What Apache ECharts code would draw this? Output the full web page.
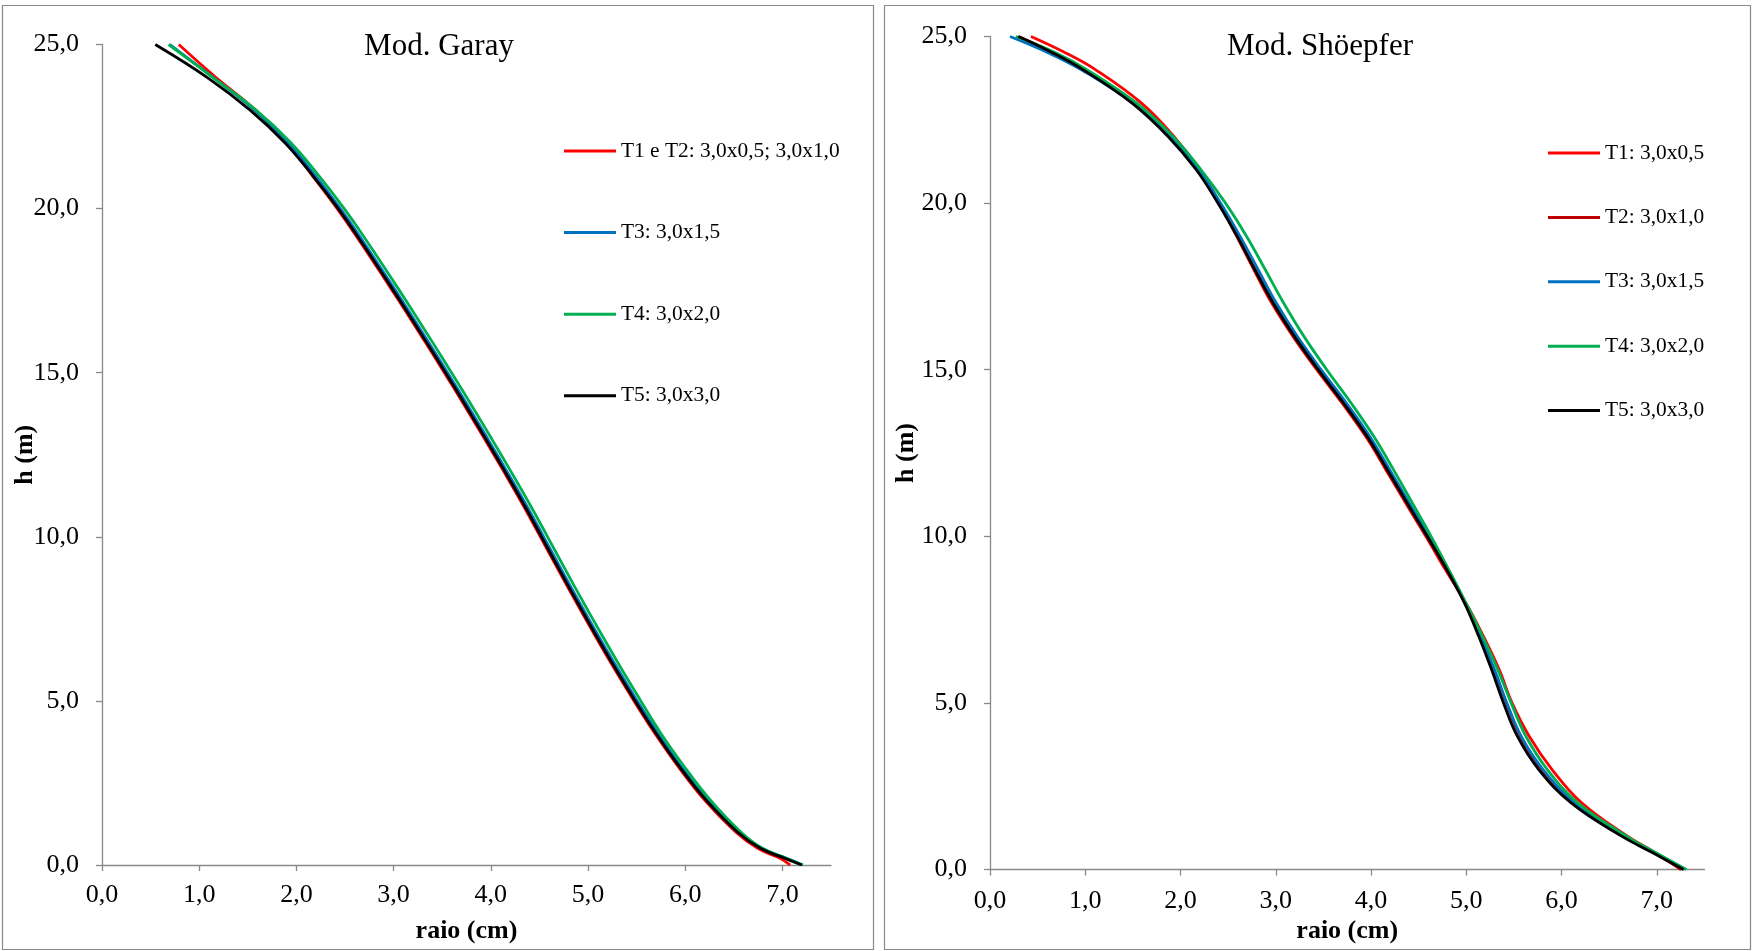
<!DOCTYPE html>
<html>
<head>
<meta charset="utf-8">
<title>Perfil h x raio</title>
<script src="https://cdn.jsdelivr.net/npm/echarts@6/dist/echarts.min.js"></script>
<style>
  html, body { margin: 0; padding: 0; background: #fff; }
  #chart { width: 1753px; height: 951px; }
</style>
</head>
<body>
<div id="chart"></div>
<script>
// ---- Mod. Garay: alturas (m) e raios (cm) por tratamento ----
const garayH   = [25, 24, 23, 22, 21, 20, 19, 18, 17, 16, 15, 14, 13, 12, 11, 10, 9, 8, 7, 6, 5, 4, 3, 2, 1, 0.5, 0.2, 0];
const garayT12 = [0.79, 1.17, 1.58, 1.90, 2.165, 2.42, 2.653, 2.877, 3.096, 3.311, 3.522, 3.729, 3.932, 4.131, 4.325, 4.51, 4.693, 4.879, 5.07, 5.267, 5.473, 5.69, 5.928, 6.193, 6.522, 6.75, 6.98, 7.08];
const garayT3  = [0.70, 1.14, 1.57, 1.915, 2.195, 2.452, 2.686, 2.91, 3.129, 3.344, 3.555, 3.762, 3.965, 4.164, 4.358, 4.543, 4.726, 4.912, 5.103, 5.30, 5.506, 5.722, 5.958, 6.225, 6.555, 6.79, 7.045, 7.21];
const garayT4  = [0.685, 1.14, 1.585, 1.945, 2.232, 2.492, 2.727, 2.951, 3.17, 3.385, 3.596, 3.803, 4.006, 4.205, 4.399, 4.584, 4.767, 4.953, 5.144, 5.339, 5.543, 5.752, 5.99, 6.253, 6.575, 6.80, 7.05, 7.21];
const garayT5  = [0.548, 1.081, 1.524, 1.884, 2.17, 2.43, 2.665, 2.889, 3.108, 3.323, 3.534, 3.741, 3.944, 4.143, 4.337, 4.522, 4.705, 4.891, 5.082, 5.279, 5.485, 5.702, 5.94, 6.208, 6.54, 6.778, 7.03, 7.20];

// ---- Mod. Shöepfer ----
const schH  = [25, 24.5, 24, 23, 22, 21, 20, 19, 18, 17, 16, 15, 14, 13, 12, 11, 10, 9, 8, 7, 6, 5, 4, 3, 2, 1, 0.5, 0];
const schT1 = [0.43, 0.80, 1.11, 1.59, 1.93, 2.20, 2.41, 2.59, 2.77, 2.957, 3.18, 3.43, 3.695, 3.943, 4.155, 4.363, 4.575, 4.78, 4.995, 5.18, 5.345, 5.48, 5.66, 5.90, 6.21, 6.69, 6.99, 7.25];
const schT2 = [0.30, 0.68, 1.00, 1.52, 1.89, 2.18, 2.40, 2.598, 2.783, 2.97, 3.19, 3.44, 3.705, 3.952, 4.165, 4.373, 4.585, 4.79, 4.985, 5.145, 5.29, 5.42, 5.565, 5.79, 6.13, 6.65, 6.97, 7.26];
const schT3 = [0.21, 0.62, 0.96, 1.50, 1.89, 2.19, 2.42, 2.625, 2.815, 3.005, 3.225, 3.475, 3.74, 3.985, 4.195, 4.40, 4.61, 4.81, 4.99, 5.15, 5.295, 5.425, 5.575, 5.805, 6.14, 6.66, 6.98, 7.29];
const schT4 = [0.27, 0.70, 1.02, 1.54, 1.92, 2.215, 2.472, 2.694, 2.89, 3.082, 3.295, 3.535, 3.79, 4.028, 4.235, 4.433, 4.63, 4.815, 4.995, 5.17, 5.33, 5.47, 5.625, 5.85, 6.17, 6.68, 6.99, 7.31];
const schT5 = [0.297, 0.666, 0.979, 1.491, 1.869, 2.165, 2.392, 2.594, 2.78, 2.972, 3.195, 3.445, 3.71, 3.958, 4.17, 4.378, 4.59, 4.795, 4.98, 5.13, 5.265, 5.39, 5.535, 5.76, 6.10, 6.63, 6.957, 7.28];

// ---- nomes, cores e escalas ----
const garayNames = ['T1 e T2: 3,0x0,5; 3,0x1,0', 'T3: 3,0x1,5', 'T4: 3,0x2,0', 'T5: 3,0x3,0'];
const schNames   = ['T1: 3,0x0,5', 'T2: 3,0x1,0', 'T3: 3,0x1,5', 'T4: 3,0x2,0', 'T5: 3,0x3,0'];
const garayColors = ['#FF0000', '#0070C0', '#00B050', '#000000'];
const schColors   = ['#FF0000', '#C00000', '#0070C0', '#00B050', '#000000'];
const xTicks = [0, 1, 2, 3, 4, 5, 6, 7];
const yTicks = [0, 5, 10, 15, 20, 25];

const FONT = '"Liberation Serif", "Times New Roman", serif';
const AXIS_GRAY = '#898989';
const fmt = v => v.toFixed(1).replace('.', ',');

function pairs(xs, hs) { return xs.map((x, i) => [x, hs[i]]); }

function xAxisFor(gridIndex, nameGap, margin) {
  return {
    type: 'value', gridIndex, min: 0, max: 7.5, interval: 1,
    name: 'raio (cm)', nameLocation: 'middle', nameGap, nameMoveOverlap: false,
    nameTextStyle: { fontFamily: FONT, fontSize: 26, fontWeight: 'bold', color: '#000' },
    axisLine: { onZero: false, lineStyle: { color: AXIS_GRAY, width: 1.3 } },
    axisTick: { show: true, length: 6, customValues: xTicks, lineStyle: { color: AXIS_GRAY, width: 1.3 } },
    axisLabel: { customValues: xTicks, formatter: fmt, margin, fontFamily: FONT, fontSize: 26, color: '#000' },
    splitLine: { show: false }
  };
}
function yAxisFor(gridIndex, nameGap, margin) {
  return {
    type: 'value', gridIndex, min: 0, max: 25, interval: 5,
    name: 'h (m)', nameLocation: 'middle', nameGap, nameRotate: 90, nameMoveOverlap: false,
    nameTextStyle: { fontFamily: FONT, fontSize: 26, fontWeight: 'bold', color: '#000' },
    axisLine: { show: true, onZero: false, lineStyle: { color: AXIS_GRAY, width: 1.3 } },
    axisTick: { show: true, length: 6, customValues: yTicks, lineStyle: { color: AXIS_GRAY, width: 1.3 } },
    axisLabel: { customValues: yTicks, formatter: fmt, margin, fontFamily: FONT, fontSize: 26, color: '#000' },
    splitLine: { show: false }
  };
}
function lineSeries(name, color, data, axisIndex) {
  return {
    type: 'line', name, data, xAxisIndex: axisIndex, yAxisIndex: axisIndex,
    smooth: 0.4, showSymbol: false, symbol: 'none', silent: true,
    lineStyle: { color, width: 2.8 }, itemStyle: { color }
  };
}
function legendFor(names, left, top, gap) {
  return {
    data: names, orient: 'vertical', left, top, padding: 0, itemGap: gap,
    icon: 'rect', itemWidth: 52, itemHeight: 3, selectedMode: false,
    textStyle: { fontFamily: FONT, fontSize: 21.4, lineHeight: 22, color: '#000' }
  };
}

const garaySeries = [garayT12, garayT3, garayT4, garayT5];
const schSeries = [schT1, schT2, schT3, schT4, schT5];

const series = [];
garaySeries.forEach((xs, i) => series.push(lineSeries(garayNames[i], garayColors[i], pairs(xs, garayH), 0)));
schSeries.forEach((xs, i) => series.push(lineSeries(schNames[i], schColors[i], pairs(xs, schH), 1)));

const chart = echarts.init(document.getElementById('chart'), null, { renderer: 'canvas' });
chart.setOption({
  animation: false,
  backgroundColor: '#ffffff',
  title: [
    { text: 'Mod. Garay', left: 439, top: 30, textAlign: 'center', padding: 0,
      textStyle: { fontFamily: FONT, fontSize: 31, lineHeight: 34, fontWeight: 'normal', color: '#000' } },
    { text: 'Mod. Shöepfer', left: 1320, top: 30, textAlign: 'center', padding: 0,
      textStyle: { fontFamily: FONT, fontSize: 31, lineHeight: 34, fontWeight: 'normal', color: '#000' } }
  ],
  graphic: [
    { type: 'rect', silent: true, z: -1, shape: { x: 2.5, y: 5.5, width: 871, height: 944 },
      style: { fill: 'none', stroke: AXIS_GRAY, lineWidth: 1.2 } },
    { type: 'rect', silent: true, z: -1, shape: { x: 884.5, y: 5.5, width: 866, height: 944 },
      style: { fill: 'none', stroke: AXIS_GRAY, lineWidth: 1.2 } }
  ],
  legend: [
    legendFor(garayNames, 564, 140, 59.6),
    legendFor(schNames, 1548, 142, 42.4)
  ],
  grid: [
    { left: 102, top: 44.5, width: 729, height: 820.5, containLabel: false },
    { left: 990, top: 36.5, width: 714.5, height: 833, containLabel: false }
  ],
  xAxis: [xAxisFor(0, 53, 17), xAxisFor(1, 48.5, 19)],
  yAxis: [yAxisFor(0, 64, 23), yAxisFor(1, 71, 23)],
  series
});
</script>
</body>
</html>
